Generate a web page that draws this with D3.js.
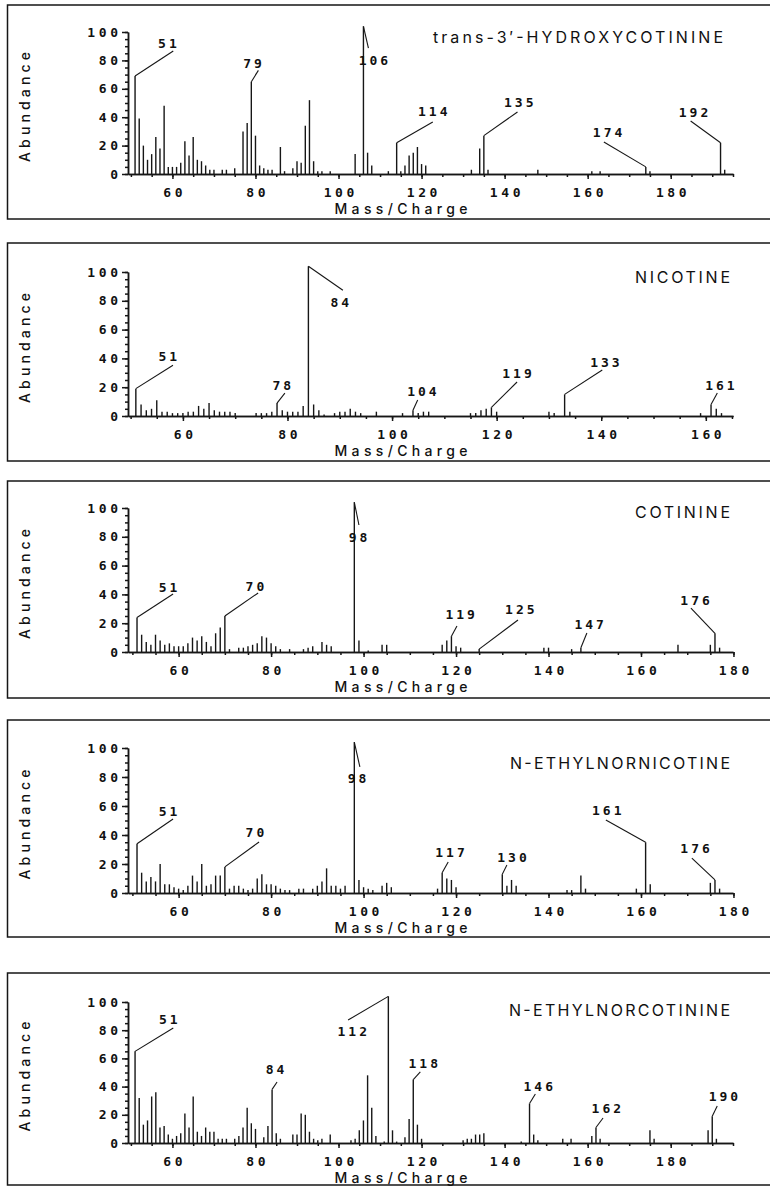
<!DOCTYPE html>
<html>
<head>
<meta charset="utf-8">
<script src="https://cdn.jsdelivr.net/npm/d3@7"></script>
<style>
  body { margin: 0; background: #fff; }
  svg text { font-family: Inter, "DejaVu Sans", sans-serif; fill: #111; }
  .num { font-family: "DejaVu Sans Mono", monospace; font-feature-settings: "zero" 1; }
</style>
</head>
<body>
<script>
// peak lists: [m/z, relative abundance]
const hydroxycotinine = [[51,69],[52,39],[53,20],[54,10],[55,14],[56,26],[57,18],[58,48],[59,5],[60,5],[61,5],[62,8],[63,23],[64,13],[65,26],[66,10],[67,9],[68,6],[69,3],[70,3],[72,3],[73,3],[75,4],[77,30],[78,36],[79,65],[80,27],[81,6],[82,4],[83,3],[84,3],[86,19],[87,2],[89,4],[90,9],[91,8],[92,34],[93,52],[94,9],[95,2],[96,2],[98,2],[104,14],[106,104],[107,15],[108,6],[112,2],[114,22],[115,2],[116,6],[117,13],[118,15],[119,19],[120,7],[121,6],[132,3],[134,18],[135,27],[136,3],[148,3],[161,2],[163,2],[174,5],[175,2],[192,22],[193,3]];
const nicotine = [[51,19],[52,8],[53,4],[54,5],[55,11],[56,3],[57,3],[58,2],[59,2],[60,2],[61,3],[62,3],[63,7],[64,5],[65,9],[66,4],[67,3],[68,3],[69,3],[70,2],[74,2],[75,2],[76,2],[77,3],[78,9],[79,4],[80,3],[81,3],[82,3],[83,7],[84,104],[85,8],[86,4],[87,1],[89,2],[90,3],[91,3],[92,5],[93,3],[94,2],[97,3],[102,2],[104,4],[105,2],[106,3],[107,3],[115,2],[116,2],[117,4],[118,5],[119,6],[120,3],[130,3],[131,2],[133,15],[134,3],[159,2],[161,8],[162,5],[163,2]];
const cotinine = [[51,24],[52,12],[53,7],[54,5],[55,12],[56,8],[57,5],[58,6],[59,4],[60,4],[61,4],[62,6],[63,10],[64,8],[65,11],[66,7],[67,4],[68,13],[69,17],[70,25],[71,2],[73,3],[74,3],[75,4],[76,5],[77,6],[78,11],[79,10],[80,6],[81,4],[82,2],[84,2],[87,2],[88,3],[89,4],[91,7],[92,5],[93,4],[98,104],[99,8],[101,1],[104,5],[105,5],[117,5],[118,8],[119,11],[120,4],[121,3],[125,2],[139,3],[140,3],[145,2],[147,3],[168,5],[175,5],[176,13],[177,3]];
const ethylnornicotine = [[51,34],[52,14],[53,8],[54,11],[55,8],[56,20],[57,6],[58,6],[59,4],[60,3],[61,2],[62,5],[63,12],[64,8],[65,20],[66,5],[67,6],[68,12],[69,12],[70,18],[71,3],[72,5],[73,5],[74,3],[75,2],[76,3],[77,10],[78,13],[79,6],[80,6],[81,5],[82,3],[83,2],[84,2],[86,3],[87,3],[89,3],[90,5],[91,8],[92,17],[93,5],[94,5],[95,3],[96,5],[98,104],[99,9],[100,4],[101,3],[102,2],[104,5],[105,7],[106,4],[116,3],[117,14],[118,10],[119,9],[120,4],[130,13],[131,5],[132,9],[133,5],[144,2],[145,2],[147,12],[148,3],[159,3],[161,35],[162,6],[175,7],[176,9],[177,3]];
const ethylnorcotinine = [[51,65],[52,32],[53,13],[54,16],[55,33],[56,36],[57,11],[58,12],[59,6],[60,3],[61,5],[62,7],[63,21],[64,11],[65,33],[66,8],[67,5],[68,11],[69,8],[70,8],[71,3],[72,3],[73,3],[75,3],[76,5],[77,11],[78,25],[79,14],[80,10],[82,4],[83,12],[84,38],[85,7],[86,3],[89,6],[90,6],[91,21],[92,20],[93,8],[94,3],[95,2],[96,3],[98,6],[103,2],[104,3],[105,9],[106,16],[107,48],[108,25],[109,5],[111,1],[112,104],[113,9],[114,1],[116,4],[117,17],[118,45],[119,13],[120,3],[130,2],[131,3],[132,3],[133,6],[134,6],[135,7],[144,1],[146,28],[147,6],[148,2],[154,3],[156,3],[161,5],[162,11],[163,3],[175,9],[176,3],[189,9],[190,19],[191,3]];

// labelled peaks: [m/z, leader end m/z, leader end abundance, text m/z, text abundance]
const hydroxycotinineLabels = [[51,60.2,86.6,58.8,92],[79,80.7,73,79.3,78],[106,107.2,88.7,108.4,80],[114,122.7,36.6,122.7,43.7],[135,143.1,43.7,143.4,50.7],[174,163.9,22.5,164.8,29],[192,184.8,37.3,185.5,43]];
const nicotineLabels = [[51,58.1,35.3,57.1,41],[78,79.5,15.9,78.9,21.5],[84,90.6,87.3,90,79],[104,104.9,11.1,105.7,17.3],[119,123.9,23.6,123.9,29.8],[133,140.2,31.9,140.7,37.4],[161,162.2,15.9,162.7,21.5]];
const cotinineLabels = [[51,58.8,40.3,57.7,45.1],[70,77.2,41,76.5,45.8],[98,99,88.2,98.8,79.2],[119,120.2,18,120.9,25.7],[125,133.4,22.2,133.8,29.2],[147,148.3,13.2,148.8,19.4],[176,170.8,30.5,171.7,36.1]];
const ethylnornicotineLabels = [[51,58.8,51,57.7,55.9],[70,77.4,35.2,76.5,41.4],[98,99.2,86.9,98.6,79.3],[117,118.3,21.4,118.7,27.6],[130,131,19.3,132.1,24.8],[161,152.4,50.3,152.6,57.2],[176,171,24.1,171.7,31]];
const ethylnorcotinineLabels = [[51,60.2,81.6,59,87.9],[84,85.2,43.3,84.7,51.8],[112,102.3,87.2,103.3,79.4],[118,119.7,50.4,120.4,56.7],[146,147.4,34.8,148.1,40.4],[162,163.7,17.7,164.5,24.8],[190,191.2,26.2,192.7,33.3]];

const titles = ["trans-3′-HYDROXYCOTININE", "NICOTINE", "COTININE", "N-ETHYLNORNICOTINE", "N-ETHYLNORCOTININE"];
const xDomains = [[49.3,195],[49.5,165.2],[49.05,179.9],[49.05,179.9],[49.3,195]];
const xTicks = [60, 80, 100, 120, 140, 160, 180];
const yTicks = [0, 20, 40, 60, 80, 100];

// page layout
const W = 770, H = 1187;
const axisX0 = 128, axisX1 = 733;
const layout = [
  {top: 5,   bottom: 219,  y0: 174,  y100: 32,   tx: 723, ty: 37,   tlen: 290},
  {top: 243, bottom: 461,  y0: 416,  y100: 272,  tx: 730, ty: 277,  tlen: 95},
  {top: 481, bottom: 698,  y0: 652,  y100: 508,  tx: 730, ty: 512,  tlen: 95},
  {top: 720, bottom: 937,  y0: 893,  y100: 748,  tx: 730, ty: 763,  tlen: 220},
  {top: 973, bottom: 1185, y0: 1143, y100: 1002, tx: 730, ty: 1010, tlen: 221}
];

const spectra = [hydroxycotinine, nicotine, cotinine, ethylnornicotine, ethylnorcotinine];
const labelSets = [hydroxycotinineLabels, nicotineLabels, cotinineLabels, ethylnornicotineLabels, ethylnorcotinineLabels];

const svg = d3.select("body").append("svg")
  .attr("width", W)
  .attr("height", H);

svg.append("rect").attr("width", W).attr("height", H).attr("fill", "#fff");

const ink = "#161616";

spectra.forEach((peaks, i) => {
  const L = layout[i];
  const g = svg.append("g");
  const xMax = xDomains[i][1];

  // frame (right edge runs off the page)
  g.append("rect")
    .attr("x", 7.5).attr("y", L.top)
    .attr("width", 800).attr("height", L.bottom - L.top)
    .attr("fill", "none").attr("stroke", ink).attr("stroke-width", 1.5);

  const x = d3.scaleLinear().domain(xDomains[i]).range([axisX0, axisX1]);
  const y = d3.scaleLinear().domain([0, 100]).range([L.y0, L.y100]);

  // x axis: minor ticks every 5, labels every 20
  g.append("g")
    .attr("transform", `translate(0,${L.y0})`)
    .call(d3.axisBottom(x).tickValues(d3.range(50, xMax + 0.5, 5)).tickSize(3).tickSizeOuter(0).tickFormat(""));
  g.append("g")
    .attr("class", "xax")
    .attr("transform", `translate(0,${L.y0})`)
    .call(d3.axisBottom(x).tickValues(xTicks.filter(t => t <= xMax + 0.5)).tickSize(5).tickSizeOuter(0).tickPadding(9));

  // y axis
  g.append("g")
    .attr("transform", `translate(${axisX0},0)`)
    .call(d3.axisLeft(y).tickValues(d3.range(0, 101, 5)).tickSize(3).tickSizeOuter(0).tickFormat(""));
  g.append("g")
    .attr("class", "yax")
    .attr("transform", `translate(${axisX0},0)`)
    .call(d3.axisLeft(y).tickValues(yTicks).tickSize(6).tickSizeOuter(0).tickPadding(4));

  g.selectAll(".domain, .tick line").attr("stroke", ink).attr("stroke-width", 1.5);
  g.selectAll(".tick text")
    .attr("class", "num")
    .attr("fill", ink)
    .style("font-size", "13px")
    .style("font-weight", 700)
    .style("letter-spacing", "3.6px")
    .style("font-family", "'DejaVu Sans Mono', monospace");
  g.selectAll(".xax .tick text").attr("dx", "1.8px");
  g.selectAll(".yax .tick text").attr("dx", "3.6px");

  // peaks
  g.append("g").selectAll("line")
    .data(peaks)
    .join("line")
    .attr("x1", d => x(d[0])).attr("x2", d => x(d[0]))
    .attr("y1", y(0)).attr("y2", d => y(d[1]))
    .attr("stroke", ink).attr("stroke-width", 1.4);

  // leader lines and peak labels
  const height = mz => (peaks.find(p => p[0] === mz) || [mz, 0])[1];
  const lab = g.append("g");
  lab.selectAll("line")
    .data(labelSets[i])
    .join("line")
    .attr("x1", d => x(d[0])).attr("y1", d => y(height(d[0])))
    .attr("x2", d => x(d[1])).attr("y2", d => y(d[2]))
    .attr("stroke", ink).attr("stroke-width", 1.1);
  lab.selectAll("text")
    .data(labelSets[i])
    .join("text")
    .attr("class", "num")
    .attr("x", d => x(d[3]) + 1.5).attr("y", d => y(d[4]))
    .attr("text-anchor", "middle")
    .attr("dominant-baseline", "central")
    .style("font-size", "13px")
    .style("font-weight", 700)
    .style("letter-spacing", "3px")
    .text(d => d[0]);

  // titles and axis names
  g.append("text")
    .attr("x", L.tx).attr("y", L.ty)
    .attr("text-anchor", "end")
    .attr("dominant-baseline", "central")
    .attr("textLength", L.tlen).attr("lengthAdjust", "spacing")
    .style("font-size", "16px")
    .text(titles[i]);

  g.append("text")
    .attr("transform", `translate(24,${(L.y0 + L.y100) / 2 + 4}) rotate(-90)`)
    .attr("text-anchor", "middle")
    .attr("dominant-baseline", "central")
    .attr("textLength", 110).attr("lengthAdjust", "spacing")
    .style("font-size", "14px")
    .style("font-weight", 500)
    .text("Abundance");

  g.append("text")
    .attr("x", 401).attr("y", L.y0 + 34)
    .attr("text-anchor", "middle")
    .attr("dominant-baseline", "central")
    .attr("textLength", 133).attr("lengthAdjust", "spacing")
    .style("font-size", "14px")
    .style("font-weight", 500)
    .text("Mass/Charge");
});
</script>
</body>
</html>
